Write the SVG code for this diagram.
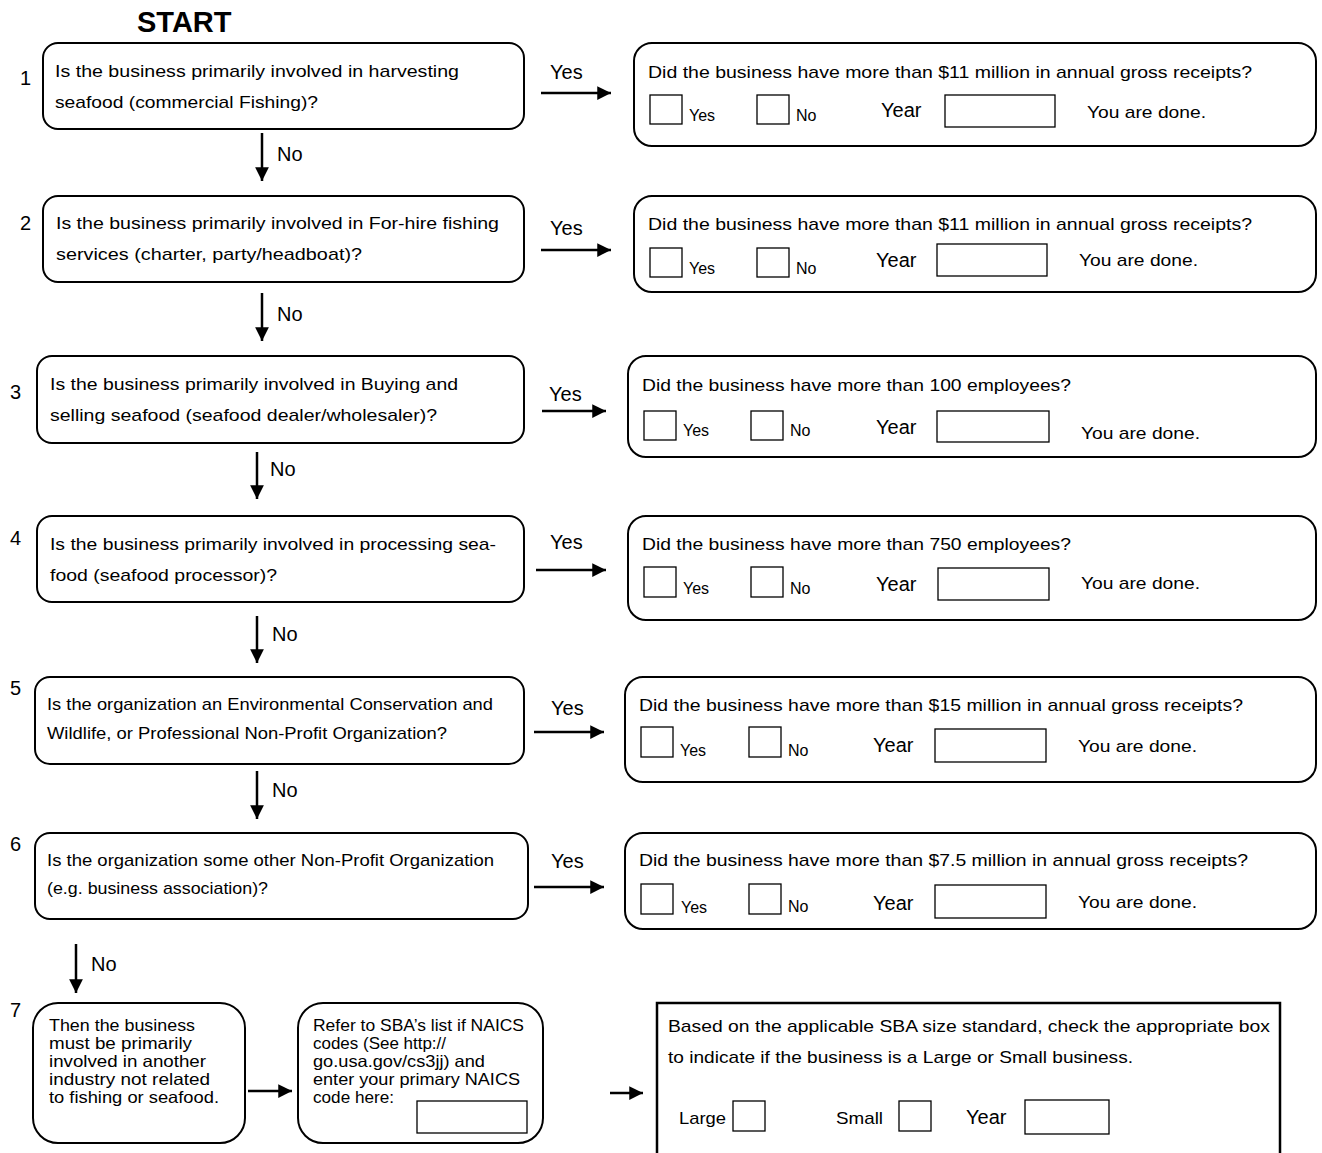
<svg xmlns="http://www.w3.org/2000/svg" width="1322" height="1153" viewBox="0 0 1322 1153">
<style>
text{font-family:"Liberation Sans",Arial,sans-serif;fill:#000}
.q{font-size:17px}
.lbl{font-size:20px}
.num{font-size:20px}
.yr{font-size:20px}
.sm{font-size:16px}
.s7{font-size:16.5px}
.box{fill:#fff;stroke:#000;stroke-width:2}
.cb{fill:#fff;stroke:#000;stroke-width:1.3}
.ar{stroke:#000;stroke-width:2.5;fill:none}
</style>
<defs>
<marker id="ah" viewBox="0 0 10 10" refX="10" refY="5" markerWidth="5.5" markerHeight="5.5" markerUnits="strokeWidth" orient="auto">
<path d="M0,0 L10,5 L0,10 z" fill="#000"/>
</marker>
</defs>
<text x="137" y="32" style="font-size:29px;font-weight:bold">START</text>

<g id="connectors">
<line class="ar" x1="541" y1="93" x2="611" y2="93" marker-end="url(#ah)"/>
<line class="ar" x1="262" y1="133" x2="262" y2="181" marker-end="url(#ah)"/>
<line class="ar" x1="541" y1="250" x2="611" y2="250" marker-end="url(#ah)"/>
<line class="ar" x1="262" y1="293" x2="262" y2="341" marker-end="url(#ah)"/>
<line class="ar" x1="542" y1="411" x2="606" y2="411" marker-end="url(#ah)"/>
<line class="ar" x1="257" y1="452" x2="257" y2="499" marker-end="url(#ah)"/>
<line class="ar" x1="536" y1="570" x2="606" y2="570" marker-end="url(#ah)"/>
<line class="ar" x1="257" y1="616" x2="257" y2="663" marker-end="url(#ah)"/>
<line class="ar" x1="534" y1="732" x2="604" y2="732" marker-end="url(#ah)"/>
<line class="ar" x1="257" y1="771" x2="257" y2="819" marker-end="url(#ah)"/>
<line class="ar" x1="534" y1="887" x2="604" y2="887" marker-end="url(#ah)"/>
<line class="ar" x1="76" y1="944" x2="76" y2="993" marker-end="url(#ah)"/>
<line class="ar" x1="248" y1="1091" x2="292" y2="1091" marker-end="url(#ah)"/>
<line class="ar" x1="610" y1="1093" x2="643" y2="1093" marker-end="url(#ah)"/>
<text class="lbl" x="550" y="79">Yes</text>
<text class="lbl" x="277" y="161">No</text>
<text class="lbl" x="550" y="235">Yes</text>
<text class="lbl" x="277" y="321">No</text>
<text class="lbl" x="549" y="401">Yes</text>
<text class="lbl" x="270" y="476">No</text>
<text class="lbl" x="550" y="549">Yes</text>
<text class="lbl" x="272" y="641">No</text>
<text class="lbl" x="551" y="715">Yes</text>
<text class="lbl" x="272" y="797">No</text>
<text class="lbl" x="551" y="868">Yes</text>
<text class="lbl" x="91" y="971">No</text>
</g>

<g id="q1">
<text class="num" x="20" y="85">1</text>
<rect class="box" x="43" y="43" width="481" height="86" rx="15"/>
<text class="q" x="55" y="77" textLength="404" lengthAdjust="spacingAndGlyphs">Is the business primarily involved in harvesting</text>
<text class="q" x="55" y="108" textLength="263" lengthAdjust="spacingAndGlyphs">seafood (commercial Fishing)?</text>
</g>
<g id="a1">
<rect class="box" x="634" y="43" width="682" height="103" rx="18"/>
<text class="q" x="648" y="78" textLength="604" lengthAdjust="spacingAndGlyphs">Did the business have more than $11 million in annual gross receipts?</text>
<rect class="cb" x="650" y="95" width="32" height="29"/>
<text class="sm" x="689" y="121">Yes</text>
<rect class="cb" x="757" y="95" width="32" height="29"/>
<text class="sm" x="796" y="121">No</text>
<text class="yr" x="881" y="117">Year</text>
<rect class="cb" x="945" y="95" width="110" height="32"/>
<text class="q" x="1087" y="118" textLength="119" lengthAdjust="spacingAndGlyphs">You are done.</text>
</g>

<g id="q2">
<text class="num" x="20" y="230">2</text>
<rect class="box" x="43" y="196" width="481" height="86" rx="15"/>
<text class="q" x="56" y="229" textLength="443" lengthAdjust="spacingAndGlyphs">Is the business primarily involved in For-hire fishing</text>
<text class="q" x="56" y="260" textLength="306" lengthAdjust="spacingAndGlyphs">services (charter, party/headboat)?</text>
</g>
<g id="a2">
<rect class="box" x="634" y="196" width="682" height="96" rx="18"/>
<text class="q" x="648" y="230" textLength="604" lengthAdjust="spacingAndGlyphs">Did the business have more than $11 million in annual gross receipts?</text>
<rect class="cb" x="650" y="248" width="32" height="29"/>
<text class="sm" x="689" y="274">Yes</text>
<rect class="cb" x="757" y="248" width="32" height="29"/>
<text class="sm" x="796" y="274">No</text>
<text class="yr" x="876" y="267">Year</text>
<rect class="cb" x="937" y="244" width="110" height="32"/>
<text class="q" x="1079" y="266" textLength="119" lengthAdjust="spacingAndGlyphs">You are done.</text>
</g>

<g id="q3">
<text class="num" x="10" y="399">3</text>
<rect class="box" x="37" y="356" width="487" height="87" rx="15"/>
<text class="q" x="50" y="390" textLength="408" lengthAdjust="spacingAndGlyphs">Is the business primarily involved in Buying and</text>
<text class="q" x="50" y="421" textLength="387" lengthAdjust="spacingAndGlyphs">selling seafood (seafood dealer/wholesaler)?</text>
</g>
<g id="a3">
<rect class="box" x="628" y="356" width="688" height="101" rx="18"/>
<text class="q" x="642" y="391" textLength="429" lengthAdjust="spacingAndGlyphs">Did the business have more than 100 employees?</text>
<rect class="cb" x="644" y="411" width="32" height="29"/>
<text class="sm" x="683" y="436">Yes</text>
<rect class="cb" x="751" y="411" width="32" height="29"/>
<text class="sm" x="790" y="436">No</text>
<text class="yr" x="876" y="434">Year</text>
<rect class="cb" x="937" y="411" width="112" height="31"/>
<text class="q" x="1081" y="439" textLength="119" lengthAdjust="spacingAndGlyphs">You are done.</text>
</g>

<g id="q4">
<text class="num" x="10" y="545">4</text>
<rect class="box" x="37" y="516" width="487" height="86" rx="15"/>
<text class="q" x="50" y="550" textLength="446" lengthAdjust="spacingAndGlyphs">Is the business primarily involved in processing sea-</text>
<text class="q" x="50" y="581" textLength="227" lengthAdjust="spacingAndGlyphs">food (seafood processor)?</text>
</g>
<g id="a4">
<rect class="box" x="628" y="516" width="688" height="104" rx="18"/>
<text class="q" x="642" y="550" textLength="429" lengthAdjust="spacingAndGlyphs">Did the business have more than 750 employees?</text>
<rect class="cb" x="644" y="567" width="32" height="30"/>
<text class="sm" x="683" y="594">Yes</text>
<rect class="cb" x="751" y="567" width="32" height="30"/>
<text class="sm" x="790" y="594">No</text>
<text class="yr" x="876" y="591">Year</text>
<rect class="cb" x="938" y="568" width="111" height="32"/>
<text class="q" x="1081" y="589" textLength="119" lengthAdjust="spacingAndGlyphs">You are done.</text>
</g>

<g id="q5">
<text class="num" x="10" y="695">5</text>
<rect class="box" x="35" y="677" width="489" height="87" rx="15"/>
<text class="q" x="47" y="710" textLength="446" lengthAdjust="spacingAndGlyphs">Is the organization an Environmental Conservation and</text>
<text class="q" x="47" y="739" textLength="400" lengthAdjust="spacingAndGlyphs">Wildlife, or Professional Non-Profit Organization?</text>
</g>
<g id="a5">
<rect class="box" x="625" y="677" width="691" height="105" rx="18"/>
<text class="q" x="639" y="711" textLength="604" lengthAdjust="spacingAndGlyphs">Did the business have more than $15 million in annual gross receipts?</text>
<rect class="cb" x="641" y="727" width="32" height="30"/>
<text class="sm" x="680" y="756">Yes</text>
<rect class="cb" x="749" y="727" width="32" height="30"/>
<text class="sm" x="788" y="756">No</text>
<text class="yr" x="873" y="752">Year</text>
<rect class="cb" x="935" y="729" width="111" height="33"/>
<text class="q" x="1078" y="752" textLength="119" lengthAdjust="spacingAndGlyphs">You are done.</text>
</g>

<g id="q6">
<text class="num" x="10" y="851">6</text>
<rect class="box" x="35" y="833" width="493" height="86" rx="15"/>
<text class="q" x="47" y="866" textLength="447" lengthAdjust="spacingAndGlyphs">Is the organization some other Non-Profit Organization</text>
<text class="q" x="47" y="894" textLength="221" lengthAdjust="spacingAndGlyphs">(e.g. business association)?</text>
</g>
<g id="a6">
<rect class="box" x="625" y="833" width="691" height="96" rx="18"/>
<text class="q" x="639" y="866" textLength="609" lengthAdjust="spacingAndGlyphs">Did the business have more than $7.5 million in annual gross receipts?</text>
<rect class="cb" x="641" y="884" width="32" height="30"/>
<text class="sm" x="681" y="913">Yes</text>
<rect class="cb" x="749" y="884" width="32" height="30"/>
<text class="sm" x="788" y="912">No</text>
<text class="yr" x="873" y="910">Year</text>
<rect class="cb" x="935" y="885" width="111" height="33"/>
<text class="q" x="1078" y="908" textLength="119" lengthAdjust="spacingAndGlyphs">You are done.</text>
</g>

<g id="q7">
<text class="num" x="10" y="1017">7</text>
<rect class="box" x="33" y="1003" width="212" height="140" rx="25"/>
<text class="s7" x="49" y="1031" textLength="146" lengthAdjust="spacingAndGlyphs">Then the business</text>
<text class="s7" x="49" y="1049" textLength="143" lengthAdjust="spacingAndGlyphs">must be primarily</text>
<text class="s7" x="49" y="1067" textLength="157" lengthAdjust="spacingAndGlyphs">involved in another</text>
<text class="s7" x="49" y="1085" textLength="161" lengthAdjust="spacingAndGlyphs">industry not related</text>
<text class="s7" x="49" y="1103" textLength="170" lengthAdjust="spacingAndGlyphs">to fishing or seafood.</text>
</g>
<g id="naics">
<rect class="box" x="298" y="1003" width="245" height="140" rx="25"/>
<text class="s7" x="313" y="1031" textLength="211" lengthAdjust="spacingAndGlyphs">Refer to SBA’s list if NAICS</text>
<text class="s7" x="313" y="1049" textLength="133" lengthAdjust="spacingAndGlyphs">codes (See http://</text>
<text class="s7" x="313" y="1067" textLength="172" lengthAdjust="spacingAndGlyphs">go.usa.gov/cs3jj) and</text>
<text class="s7" x="313" y="1085" textLength="207" lengthAdjust="spacingAndGlyphs">enter your primary NAICS</text>
<text class="s7" x="313" y="1103" textLength="81" lengthAdjust="spacingAndGlyphs">code here:</text>
<rect class="cb" x="417" y="1101" width="110" height="32"/>
</g>
<g id="size">
<rect x="657" y="1003" width="623" height="170" fill="#fff" stroke="#000" stroke-width="2.5"/>
<text class="q" x="668" y="1032" textLength="602" lengthAdjust="spacingAndGlyphs">Based on the applicable SBA size standard, check the appropriate box</text>
<text class="q" x="668" y="1063" textLength="465" lengthAdjust="spacingAndGlyphs">to indicate if the business is a Large or Small business.</text>
<text class="q" x="679" y="1124" textLength="47" lengthAdjust="spacingAndGlyphs">Large</text>
<rect class="cb" x="733" y="1101" width="32" height="30"/>
<text class="q" x="836" y="1124" textLength="47" lengthAdjust="spacingAndGlyphs">Small</text>
<rect class="cb" x="899" y="1101" width="32" height="30"/>
<text class="yr" x="966" y="1124">Year</text>
<rect class="cb" x="1025" y="1100" width="84" height="34"/>
</g>
</svg>
